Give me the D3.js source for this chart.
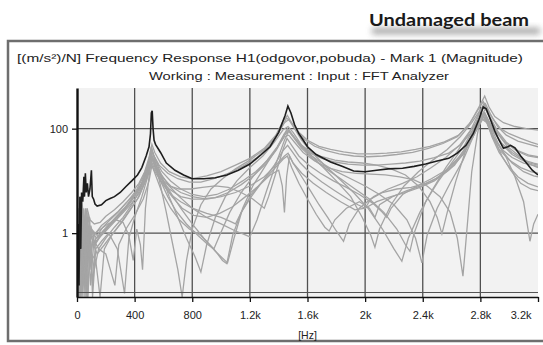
<!DOCTYPE html>
<html>
<head>
<meta charset="utf-8">
<script src="https://cdn.jsdelivr.net/npm/d3@7"></script>
<style>
  html, body { margin: 0; padding: 0; background: #fff; }
  svg { display: block; }
</style>
</head>
<body>
<svg id="chart" width="543" height="345"></svg>
<script>
// tick values / labels
var xTicks = [0, 400, 800, 1200, 1600, 2000, 2400, 2800, 3200];
var xTickLabels = ["0", "400", "800", "1.2k", "1.6k", "2k", "2.4k", "2.8k", "3.2k"];
var yTicks = [1, 100];
var yTickLabels = ["1", "100"];

// undamaged beam FRF magnitude [Hz, (m/s²)/N]
var undamaged = [[0,0.06],[8,1.5],[14,0.1],[20,5],[26,0.5],[32,6],[40,4],[48,12],[52,5],[58,14],[64,6],[72,9],[80,5],[90,7],[100,16],[106,5],[115,4.5],[125,3.6],[140,3.3],[170,3.5],[200,4.2],[230,4.6],[260,5],[300,6],[340,7.8],[380,10],[420,13],[450,18],[480,30],[500,45],[510,80],[516,200],[522,220],[528,100],[535,60],[545,50],[580,35],[620,22],[680,16],[740,13],[800,11],[880,11],[960,11.5],[1040,13],[1120,16],[1200,21],[1280,32],[1340,45],[1400,85],[1445,180],[1464,270],[1485,200],[1510,120],[1540,80],[1580,55],[1600,45],[1660,32],[1760,23],[1840,19],[1920,15.5],[2000,15],[2080,16],[2160,17],[2260,17.5],[2340,19],[2420,21],[2500,24],[2580,27],[2640,34],[2700,48],[2750,80],[2790,150],[2820,260],[2840,240],[2870,150],[2900,90],[2930,60],[2960,42],[2990,45],[3010,48],[3040,43],[3080,30],[3120,22],[3160,16],[3200,13]];

// other measurements (grey)
var g1 = [[0,0.3],[10,2],[20,0.15],[35,4],[50,1.2],[70,3],[90,1.8],[120,1.5],[160,1.6],[200,2.1],[260,2.8],[320,4],[380,6],[430,9],[470,15],[500,28],[520,50],[540,35],[580,22],[640,15],[720,12],[800,11],[900,12.5],[1000,15],[1100,20],[1200,27],[1300,42],[1380,75],[1430,140],[1460,180],[1490,130],[1540,85],[1600,60],[1680,46],[1760,40],[1850,36],[1950,33],[2050,33],[2150,34],[2250,36],[2350,40],[2450,46],[2550,56],[2650,75],[2730,130],[2790,260],[2830,420],[2860,260],[2900,170],[2960,130],[3040,110],[3120,100],[3200,94]];
var g2 = [[0,0.06],[12,3],[25,0.4],[40,2],[60,0.1],[75,2.5],[95,0.8],[130,1],[170,1.4],[220,1.8],[280,2.5],[340,3.8],[400,5.5],[450,9],[490,18],[515,45],[535,30],[570,20],[630,14],[700,11],[780,9.5],[860,9.5],[950,11],[1050,14],[1150,19],[1250,28],[1340,48],[1410,95],[1455,160],[1480,140],[1520,95],[1580,62],[1650,46],[1730,38],[1820,33],[1920,30],[2020,29],[2120,30],[2220,32],[2330,35],[2440,42],[2540,52],[2640,70],[2720,120],[2780,220],[2820,330],[2850,230],[2890,150],[2940,100],[3000,80],[3080,65],[3150,55],[3200,50]];
var g3 = [[0,0.08],[8,1.5],[18,0.06],[30,2],[45,0.3],[60,3],[80,0.5],[100,1.2],[140,0.9],[180,1.3],[230,1.8],[290,2.6],[350,4],[410,6.5],[460,12],[500,25],[520,40],[545,22],[580,8],[620,2.5],[660,0.7],[700,0.2],[730,0.06],[760,0.3],[800,1.2],[860,3.5],[930,7],[1010,11],[1100,17],[1200,25],[1300,40],[1380,70],[1440,130],[1470,150],[1500,110],[1560,60],[1630,35],[1720,20],[1820,11],[1920,6],[2020,3],[2120,1.2],[2200,0.5],[2255,0.29],[2300,0.8],[2380,2.5],[2470,7],[2560,18],[2650,40],[2730,90],[2790,200],[2825,300],[2860,180],[2910,90],[2970,55],[3050,38],[3130,30],[3200,28]];
var g4 = [[0,0.2],[10,0.06],[22,2.5],[35,0.15],[50,1.8],[70,0.3],[90,1],[120,0.6],[160,0.9],[210,1.3],[270,2],[330,3],[390,5],[450,9],[495,20],[518,38],[545,25],[590,12],[640,5],[700,2],[760,0.8],[820,0.35],[860,0.18],[900,0.6],[960,2],[1030,5],[1110,10],[1200,18],[1290,30],[1370,55],[1430,95],[1465,110],[1500,85],[1560,48],[1630,30],[1710,18],[1800,10],[1900,5],[1980,2],[2040,0.9],[2068,0.54],[2100,1.2],[2180,3.5],[2270,8],[2370,15],[2470,25],[2570,40],[2660,70],[2740,130],[2800,230],[2830,260],[2870,150],[2920,80],[2990,45],[3070,30],[3140,22],[3200,20]];
var g5 = [[0,0.06],[15,1],[28,0.1],[42,1.5],[55,0.06],[70,1.2],[90,0.2],[110,0.8],[150,0.5],[200,0.8],[260,1.3],[320,2],[380,3.5],[440,7],[490,16],[515,32],[540,22],[590,11],[650,6],[720,3],[800,1.5],[880,0.8],[960,0.45],[1045,0.27],[1090,0.8],[1150,3],[1220,8],[1300,18],[1380,40],[1440,70],[1470,75],[1510,55],[1570,35],[1650,24],[1740,18],[1840,15],[1940,14],[2040,13.5],[2140,13],[2240,12],[2340,10.5],[2430,8],[2520,5],[2590,2.5],[2640,0.8],[2679,0.15],[2710,1.5],[2740,15],[2780,80],[2810,190],[2840,150],[2880,70],[2930,35],[2990,20],[3060,12],[3130,9],[3200,7.7]];
var g6 = [[0,0.5],[8,0.06],[20,1.8],[32,0.2],[48,2.2],[65,0.4],[85,1.5],[110,0.1],[130,0.8],[170,1],[230,1.5],[300,2.3],[370,3.8],[430,7],[480,14],[512,30],[535,24],[580,14],[640,8],[710,5],[800,3],[900,2],[1000,1.5],[1100,1.1],[1160,0.95],[1200,0.85],[1250,1.8],[1320,7],[1390,25],[1440,60],[1470,90],[1500,70],[1560,42],[1640,26],[1730,17],[1830,11],[1930,7],[2030,4.5],[2130,2.5],[2220,1.2],[2280,0.6],[2311,0.45],[2340,1],[2420,4],[2510,10],[2600,22],[2690,48],[2760,110],[2810,180],[2845,140],[2890,70],[2950,38],[3020,22],[3100,15],[3170,12.5],[3200,12]];
var g7 = [[0,0.1],[12,1.2],[24,0.06],[38,0.9],[52,0.3],[68,2],[85,0.2],[105,0.7],[140,0.4],[190,0.6],[250,1],[310,1.6],[370,2.8],[430,5],[480,11],[510,22],[535,16],[580,10],[640,7],[720,5],[800,4.5],[900,4.5],[1000,5],[1100,6],[1200,8],[1300,12],[1380,20],[1440,30],[1465,34],[1500,22],[1560,12],[1620,6.5],[1680,3.5],[1740,2],[1800,1.1],[1850,0.7],[1890,1.5],[1960,3],[2060,5],[2160,7],[2260,9],[2360,12],[2460,18],[2560,28],[2660,50],[2740,100],[2800,170],[2830,200],[2870,110],[2920,55],[2980,28],[3040,12],[3100,4],[3144,0.7],[3170,1.5],[3200,2.3]];
var g8 = [[0,0.06],[10,0.8],[22,0.2],[36,1.6],[50,0.5],[64,0.06],[80,1],[100,0.4],[130,0.3],[160,0.06],[190,0.5],[240,0.9],[300,1.5],[360,2.6],[420,4.5],[470,9],[505,18],[525,28],[550,18],[600,9],[660,5],[730,3],[810,2.2],[900,2],[990,2.4],[1080,3.2],[1170,5],[1260,8],[1340,13],[1400,16],[1425,8],[1440,2.5],[1455,12],[1475,30],[1500,22],[1560,14],[1640,9],[1730,6],[1830,4],[1930,2.8],[2000,3],[2080,4],[2180,5],[2280,6],[2380,7.5],[2480,10],[2580,16],[2680,32],[2760,80],[2815,170],[2845,160],[2890,90],[2950,50],[3020,32],[3100,24],[3160,20],[3200,18]];
var g9 = [[0,0.3],[14,0.06],[26,1.3],[40,0.1],[56,1.6],[72,0.06],[92,0.6],[120,0.2],[150,0.5],[200,0.4],[263,0.1],[290,0.6],[340,1.2],[400,2.2],[460,4.5],[500,10],[520,20],[545,13],[590,6],[650,3],[710,1.8],[780,1.2],[860,0.9],[950,0.5],[1010,0.3],[1040,0.26],[1080,0.9],[1140,2.5],[1210,5.5],[1290,10],[1370,17],[1430,26],[1460,30],[1490,18],[1540,9],[1600,4.5],[1660,2.3],[1720,1.3],[1750,1.1],[1790,1.8],[1870,3],[1960,4],[2030,3],[2068,2],[2100,3.5],[2190,5],[2290,6.5],[2390,8],[2490,11],[2590,18],[2680,36],[2760,85],[2810,160],[2840,140],[2880,75],[2930,40],[3000,25],[3080,18],[3150,15],[3200,14]];
var g10 = [[0,0.06],[9,2.5],[19,0.4],[31,3.5],[44,0.8],[58,2.8],[76,0.06],[96,1.4],[125,0.6],[165,0.9],[215,1.3],[275,2],[335,3],[395,5],[450,8.5],[495,17],[517,33],[540,20],[580,10],[630,5],[690,2.6],[760,1.5],[840,0.9],[910,0.6],[950,0.5],[990,0.9],[1060,2.5],[1140,6],[1230,13],[1320,25],[1390,45],[1440,80],[1470,95],[1505,70],[1560,45],[1630,30],[1710,21],[1800,15],[1900,11],[2000,8],[2100,5.5],[2200,3.5],[2290,1.8],[2350,0.8],[2394,0.27],[2430,0.9],[2500,3],[2590,9],[2680,25],[2750,70],[2800,160],[2835,240],[2870,160],[2920,90],[2980,55],[3060,38],[3140,31],[3200,29]];
var g11 = [[0,0.15],[11,1.1],[23,0.06],[37,2.6],[51,0.7],[66,1.8],[82,0.3],[102,1.1],[135,0.8],[180,1.1],[235,1.6],[295,2.4],[355,3.6],[415,5.8],[465,10],[500,20],[522,36],[548,24],[590,15],[650,10],[720,7],[800,5.5],[880,5],[970,5.5],[1060,7],[1150,10],[1240,15],[1320,24],[1390,42],[1440,75],[1470,90],[1500,72],[1550,50],[1620,36],[1700,29],[1790,25],[1880,23],[1980,22],[2080,20],[2180,17],[2280,13],[2370,8],[2450,4],[2500,2],[2533,0.97],[2570,2.5],[2630,10],[2700,40],[2760,110],[2805,240],[2835,300],[2870,190],[2920,110],[2980,75],[3060,58],[3140,50],[3200,45]];
var g12 = [[0,0.06],[13,1.6],[27,0.3],[41,0.06],[57,1.3],[73,0.5],[88,2],[108,0.06],[130,0.5],[170,0.7],[220,1],[280,0.5],[330,0.07],[360,0.8],[400,2],[450,5],[495,13],[520,26],[545,17],[590,9],[650,5.5],[720,4],[800,3],[900,2.4],[1000,2],[1060,1.7],[1100,1.5],[1140,2.5],[1210,5],[1290,10],[1370,20],[1430,38],[1462,48],[1495,36],[1550,22],[1620,14],[1700,9.5],[1790,6.5],[1880,4.5],[1950,3.5],[2000,3],[2040,4.5],[2120,6],[2220,7],[2320,7.5],[2420,9],[2520,12],[2620,20],[2700,40],[2770,90],[2815,150],[2845,130],[2890,70],[2950,40],[3020,28],[3100,22],[3160,20],[3200,19]];
var g13 = [[0,0.4],[10,0.06],[21,1],[34,0.5],[47,3],[62,0.15],[78,1.4],[98,0.5],[125,1],[165,1.2],[215,1.5],[270,1.8],[320,1.6],[360,0.9],[390,0.3],[415,1.2],[440,0.6],[455,0.2],[475,3],[500,12],[520,30],[545,20],[590,12],[650,8],[720,6],[800,5],[880,4.6],[960,4.8],[1050,6],[1140,8.5],[1230,13],[1310,21],[1380,38],[1430,70],[1460,100],[1495,75],[1550,48],[1620,34],[1700,27],[1790,23],[1880,21],[1980,20],[2080,20],[2180,21],[2280,22],[2380,24],[2480,28],[2580,34],[2660,48],[2730,80],[2790,150],[2830,200],[2860,140],[2900,85],[2950,52],[3020,35],[3100,25],[3170,22],[3200,21]];
var g14 = [[0,0.06],[16,0.9],[29,0.06],[43,1.1],[59,0.4],[74,1.6],[94,0.1],[115,0.6],[150,0.8],[200,1.1],[255,1.6],[315,2.4],[375,3.6],[435,6],[485,12],[513,25],[538,17],[580,11],[640,8],[710,7],[790,7],[870,7.5],[960,8],[1050,7.5],[1140,6],[1220,4.5],[1270,3.5],[1300,3],[1330,5],[1380,14],[1430,40],[1458,65],[1490,48],[1540,30],[1610,20],[1690,14],[1780,10],[1870,7.5],[1960,5.5],[2050,3.8],[2120,2.5],[2150,2],[2180,3],[2260,5.5],[2360,8],[2460,11],[2560,16],[2650,28],[2730,60],[2790,140],[2825,190],[2855,130],[2900,60],[2950,30],[3010,16],[3080,9],[3150,7],[3200,6.5]];
var others = [g1, g2, g3, g4, g5, g6, g7, g8, g9, g10, g11, g12, g13, g14];

var svg = d3.select("#chart");

var plotLeft = 77, plotRight = 538, plotTop = 88, plotBottom = 297;
var x = d3.scaleLinear().domain([0, 3200]).range([plotLeft, plotRight]);
var y = d3.scaleLog().domain([0.06, 600]).range([plotBottom, plotTop]);

var defs = svg.append("defs");
defs.append("filter").attr("id", "blur").attr("x", "-20%").attr("y", "-100%").attr("width", "140%").attr("height", "300%")
  .append("feGaussianBlur").attr("stdDeviation", 3);
defs.append("clipPath").attr("id", "plotclip")
  .append("rect").attr("x", plotLeft).attr("y", plotTop)
  .attr("width", plotRight - plotLeft).attr("height", plotBottom - plotTop);

// title with its soft shadow
svg.append("rect")
  .attr("x", 372).attr("y", 28).attr("width", 168).attr("height", 6)
  .attr("fill", "#8a8a8a").attr("opacity", 0.8)
  .attr("filter", "url(#blur)");
svg.append("text")
  .attr("x", 369).attr("y", 26)
  .attr("textLength", 160).attr("lengthAdjust", "spacingAndGlyphs")
  .style("font-family", "Lato, 'Open Sans', sans-serif")
  .style("font-weight", "bold").style("font-size", "17px")
  .attr("fill", "#1a1a1a")
  .text("Undamaged beam");

// outer frame of the analyzer window
svg.append("rect")
  .attr("x", 8).attr("y", 41).attr("width", 545).attr("height", 300)
  .attr("fill", "#fff").attr("stroke", "#6e6e6e").attr("stroke-width", 2.5);

svg.append("text")
  .attr("x", 17).attr("y", 62)
  .attr("textLength", 506).attr("lengthAdjust", "spacingAndGlyphs")
  .style("font-family", "'Liberation Sans', Arial, sans-serif").style("font-size", "11.5px")
  .attr("fill", "#222")
  .text("[(m/s²)/N] Frequency Response H1(odgovor,pobuda) - Mark 1 (Magnitude)");
svg.append("text")
  .attr("x", 149).attr("y", 80)
  .attr("textLength", 300).attr("lengthAdjust", "spacingAndGlyphs")
  .style("font-family", "'Liberation Sans', Arial, sans-serif").style("font-size", "11.5px")
  .attr("fill", "#222")
  .text("Working : Measurement : Input : FFT Analyzer");

// plot background
svg.append("rect")
  .attr("x", plotLeft).attr("y", plotTop)
  .attr("width", plotRight - plotLeft).attr("height", plotBottom - plotTop)
  .attr("fill", "#f2f2f2");

// grid
var grid = svg.append("g").attr("stroke", "#505050").attr("stroke-width", 1.3);
grid.selectAll("line.v").data(xTicks.slice(1, -1)).enter().append("line")
  .attr("x1", function (d) { return x(d); }).attr("x2", function (d) { return x(d); })
  .attr("y1", plotTop).attr("y2", plotBottom);
grid.selectAll("line.h").data(yTicks).enter().append("line")
  .attr("x1", plotLeft).attr("x2", plotRight)
  .attr("y1", function (d) { return y(d); }).attr("y2", function (d) { return y(d); });

// curves
var line = d3.line()
  .x(function (d) { return x(d[0]); })
  .y(function (d) { return y(Math.max(d[1], 0.06)); });

var plot = svg.append("g").attr("clip-path", "url(#plotclip)");
plot.selectAll("path.other").data(others).enter().append("path")
  .attr("class", "other")
  .attr("d", line)
  .attr("fill", "none").attr("stroke", "#a4a4a4").attr("stroke-width", 1.3);
plot.append("path")
  .attr("d", line(undamaged))
  .attr("fill", "none").attr("stroke", "#1e1e1e").attr("stroke-width", 1.6);

// axes
var xAxis = d3.axisBottom(x).tickValues(xTicks).tickSize(5).tickSizeOuter(0)
  .tickFormat(function (d, i) { return xTickLabels[i]; });
var gx = svg.append("g").attr("transform", "translate(0," + plotBottom + ")").call(xAxis);
gx.select(".domain").attr("stroke", "#111").attr("stroke-width", 1.6);
gx.selectAll(".tick line").attr("stroke", "#111").attr("stroke-width", 1.3);
gx.selectAll(".tick text")
  .attr("y", 14).attr("fill", "#222")
  .style("font-family", "'Liberation Sans', Arial, sans-serif").style("font-size", "11px");
gx.selectAll(".tick text").filter(function (d) { return d === 3200; })
  .attr("text-anchor", "end").attr("dx", -7);
svg.append("line")
  .attr("x1", plotLeft).attr("x2", plotRight).attr("y1", plotBottom - 4.5).attr("y2", plotBottom - 4.5)
  .attr("stroke", "#555").attr("stroke-width", 1.2);

var yAxis = d3.axisLeft(y).tickValues(yTicks).tickSize(5).tickSizeOuter(0)
  .tickFormat(function (d) { return yTickLabels[yTicks.indexOf(d)]; });
var gy = svg.append("g").attr("transform", "translate(" + plotLeft + ",0)").call(yAxis);
gy.select(".domain").attr("stroke", "#111").attr("stroke-width", 2.4);
gy.selectAll(".tick line").attr("stroke", "#111").attr("stroke-width", 1.3);
gy.selectAll(".tick text")
  .attr("x", -9).attr("fill", "#222")
  .style("font-family", "'Liberation Sans', Arial, sans-serif").style("font-size", "11px");

svg.append("text")
  .attr("x", x(1600)).attr("y", 339).attr("text-anchor", "middle")
  .style("font-family", "'Liberation Sans', Arial, sans-serif").style("font-size", "10.5px")
  .attr("fill", "#222")
  .text("[Hz]");
</script>
</body>
</html>
